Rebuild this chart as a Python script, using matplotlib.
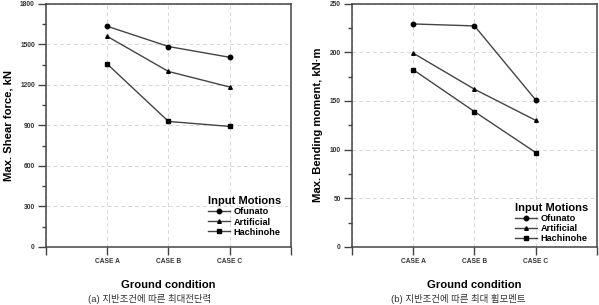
import numpy as np
import matplotlib.pyplot as plt
from matplotlib.ticker import MultipleLocator, FixedLocator

plt.rcParams['font.family'] = ['Liberation Sans', 'Noto Sans CJK KR', 'DejaVu Sans']

cases = ["CASE A", "CASE B", "CASE C"]
motions = ["Ofunato", "Artificial", "Hachinohe"]
markers = ["o", "^", "s"]

shear_ofunato = [1635, 1485, 1405]
shear_artificial = [1560, 1300, 1185]
shear_hachinohe = [1355, 930, 893]

moment_ofunato = [229, 227, 151]
moment_artificial = [199, 162, 130]
moment_hachinohe = [182, 139, 97]

captions = ["(a) 지반조건에 따른 최대전단력", "(b) 지반조건에 따른 최대 휨모멘트"]

fig = plt.figure(figsize=(5.99, 3.05), dpi=100)
ax1 = fig.add_axes([0.0768, 0.1902, 0.409, 0.7967])
ax2 = fig.add_axes([0.5876, 0.1902, 0.409, 0.7983])

line_col = "#444444"
x = np.arange(1, len(cases) + 1)


def style(ax, series, ymax, major, ylabel, leg_anchor):
    for vals, name, m in zip(series, motions, markers):
        ms = 3.2 if m != "^" else 2.6
        ax.plot(x, vals, color=line_col, lw=1.0, marker=m, ms=ms,
                mfc="black", mec="black", label=name)
    ax.set_xlim(0, 4)
    ax.set_ylim(0, ymax)
    ax.xaxis.set_major_locator(FixedLocator([0, 1, 2, 3, 4]))
    ax.set_xticklabels([""] + cases + [""])
    ax.yaxis.set_major_locator(MultipleLocator(major))
    ax.yaxis.set_minor_locator(MultipleLocator(major / 2))
    ax.tick_params(axis="both", which="major", direction="out", length=6,
                   width=1.0, color=line_col, labelsize=4.8, pad=2)
    ax.tick_params(axis="y", which="minor", direction="out", length=3,
                   width=1.0, color=line_col)
    for lab in ax.get_xticklabels() + ax.get_yticklabels():
        lab.set_fontweight("bold")
        lab.set_color("#333333")
    ax.grid(True, which="major", ls=(0, (4, 3)), color="#d8d8d8", lw=0.7)
    for s in ax.spines.values():
        s.set_color(line_col)
        s.set_linewidth(1.1)
    ax.set_xlabel("Ground condition", fontsize=8.1, fontweight="bold", labelpad=11)
    ax.set_ylabel(ylabel, fontsize=8.1, fontweight="bold", labelpad=5)
    leg = ax.legend(loc="lower right", bbox_to_anchor=leg_anchor, frameon=False,
                    title="Input Motions", fontsize=6.6, handlelength=2.4,
                    handletextpad=0.4, labelspacing=0.12, borderpad=0.2,
                    title_fontproperties={"weight": "bold", "size": 8})
    for t in leg.get_texts():
        t.set_fontweight("bold")
    leg._legend_box.align = "left"


style(ax1, [shear_ofunato, shear_artificial, shear_hachinohe], 1800, 300,
      "Max. Shear force, kN", (0.985, 0.016))
style(ax2, [moment_ofunato, moment_artificial, moment_hachinohe], 250, 50,
      "Max. Bending moment, kN·m", (0.99, -0.01))

fig.text(0.25, 0.004, captions[0], ha="center", va="bottom", fontsize=6.8, color="#333333")
fig.text(0.765, 0.004, captions[1], ha="center", va="bottom", fontsize=6.8, color="#333333")

fig.savefig("out.png", dpi=100)
